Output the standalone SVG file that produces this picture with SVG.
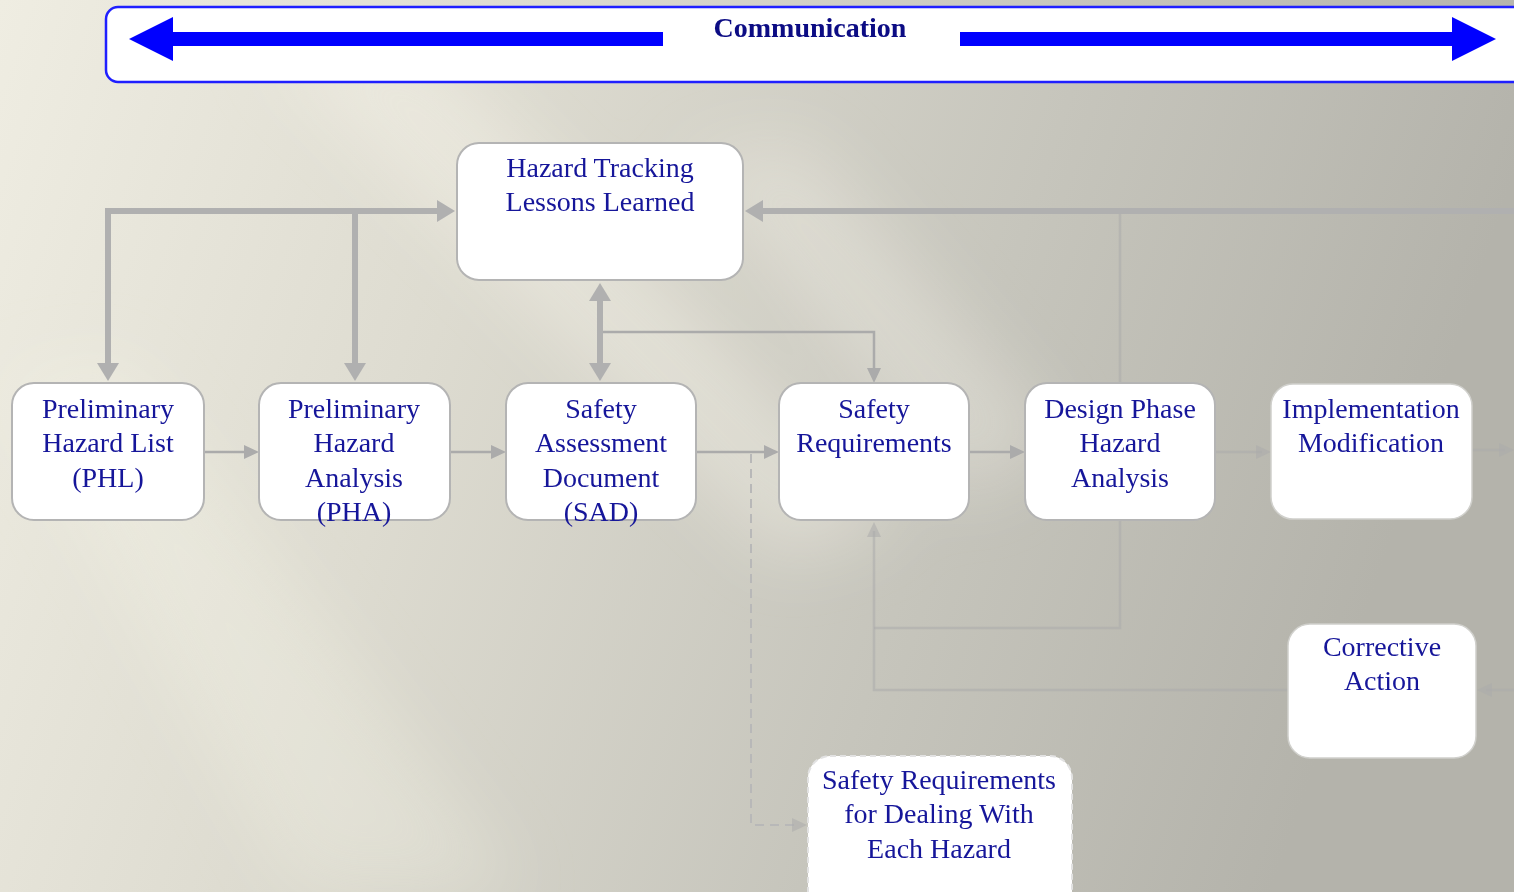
<svg xmlns="http://www.w3.org/2000/svg" width="1514" height="892" viewBox="0 0 1514 892">
  <defs>
    <linearGradient id="bg" x1="0" y1="0" x2="1" y2="0.2">
      <stop offset="0" stop-color="#efede2"/>
      <stop offset="0.35" stop-color="#dddbd0"/>
      <stop offset="0.7" stop-color="#c6c5bc"/>
      <stop offset="1" stop-color="#b4b3ab"/>
    </linearGradient>
    <filter id="glow" x="-30%" y="-30%" width="160%" height="160%">
      <feGaussianBlur stdDeviation="35"/>
    </filter>
    <!-- arrowheads: the tip sits a little beyond the line end so the stroke never pokes through -->
    <marker id="thickHead" markerUnits="userSpaceOnUse" markerWidth="20" markerHeight="22" refX="8" refY="11" orient="auto">
      <path d="M0,0 L18,11 L0,22 Z" fill="#b0b0b0"/>
    </marker>
    <marker id="thickTail" markerUnits="userSpaceOnUse" markerWidth="20" markerHeight="22" refX="10" refY="11" orient="auto">
      <path d="M18,0 L0,11 L18,22 Z" fill="#b0b0b0"/>
    </marker>
    <marker id="thinHead" markerUnits="userSpaceOnUse" markerWidth="16" markerHeight="14" refX="6" refY="7" orient="auto">
      <path d="M0,0 L15,7 L0,14 Z" fill="#ababab"/>
    </marker>
    <marker id="faintHead" markerUnits="userSpaceOnUse" markerWidth="16" markerHeight="14" refX="6" refY="7" orient="auto">
      <path d="M0,0 L15,7 L0,14 Z" fill="#ababab" fill-opacity="0.55"/>
    </marker>
  </defs>
  <style>
    .box { fill: #ffffff; stroke: #b4b4b4; stroke-width: 2; }
    .soft { fill: #ffffff; stroke: #d0d0cc; stroke-width: 1.5; }
    .dash { fill: #ffffff; stroke: #e2e2e2; stroke-width: 2; stroke-dasharray: 6 4; }
    .lbl { font-size: 28px; fill: #16169a; text-anchor: middle; }
    .title { font-size: 28px; font-weight: bold; fill: #0c0c84; text-anchor: middle; }
    .thick { fill: none; stroke: #b0b0b0; stroke-width: 6; }
    .thin { fill: none; stroke: #ababab; stroke-width: 2.5; }
    .faint { fill: none; stroke: #ababab; stroke-opacity: 0.55; stroke-width: 2.5; }
    .dashed { fill: none; stroke: #b8b8b8; stroke-width: 2; stroke-dasharray: 9 6; }
  </style>

  <!-- background with soft diagonal light rays -->
  <rect x="0" y="0" width="1514" height="892" fill="url(#bg)"/>
  <g filter="url(#glow)" fill="#fbfaf1">
    <polygon points="260,40 420,40 900,520 780,560" opacity="0.35"/>
    <polygon points="680,160 800,140 1060,440 960,500" opacity="0.3"/>
    <polygon points="0,380 120,360 520,892 300,892" opacity="0.25"/>
  </g>

  <g font-family="'Liberation Serif', 'DejaVu Serif', 'Times New Roman', serif">
  <!-- communication banner -->
  <g id="communication">
    <rect x="106" y="7" width="1430" height="75" rx="12" fill="#ffffff" stroke="#1f1fff" stroke-width="2.5"/>
    <polygon points="129,39 173,17 173,32 663,32 663,46 173,46 173,61" fill="#0000ff"/>
    <polygon points="1496,39 1452,17 1452,32 960,32 960,46 1452,46 1452,61" fill="#0000ff"/>
    <text class="title" x="810" y="37">Communication</text>
  </g>

  <!-- connectors -->
  <g id="connectors">
    <!-- feedback into hazard tracking from the left -->
    <polyline class="thick" points="108,371 108,211 445,211" marker-end="url(#thickHead)"/>
    <line class="thick" x1="108" y1="214" x2="108" y2="371" marker-end="url(#thickHead)"/>
    <line class="thick" x1="355" y1="211" x2="355" y2="371" marker-end="url(#thickHead)"/>
    <!-- feedback into hazard tracking from the right -->
    <line class="thick" x1="1514" y1="211" x2="755" y2="211" marker-end="url(#thickHead)"/>
    <line class="faint" x1="1120" y1="214" x2="1120" y2="383"/>
    <!-- hazard tracking <-> SAD -->
    <line class="thick" x1="600" y1="293" x2="600" y2="371" marker-start="url(#thickTail)" marker-end="url(#thickHead)"/>
    <polyline class="thin" points="603,332 874,332 874,374" marker-end="url(#thinHead)"/>
    <!-- main flow -->
    <line class="thin" x1="205" y1="452" x2="250" y2="452" marker-end="url(#thinHead)"/>
    <line class="thin" x1="451" y1="452" x2="497" y2="452" marker-end="url(#thinHead)"/>
    <line class="thin" x1="697" y1="452" x2="770" y2="452" marker-end="url(#thinHead)"/>
    <line class="thin" x1="970" y1="452" x2="1016" y2="452" marker-end="url(#thinHead)"/>
    <line class="faint" x1="1216" y1="452" x2="1262" y2="452" marker-end="url(#faintHead)"/>
    <line class="faint" x1="1462" y1="450" x2="1505" y2="450" marker-end="url(#faintHead)"/>
    <!-- loops back to safety requirements -->
    <polyline class="faint" points="1120,521 1120,628 874,628"/>
    <polyline class="faint" points="1288,690 874,690 874,531" marker-end="url(#faintHead)"/>
    <line class="faint" x1="1514" y1="690" x2="1486" y2="690" marker-end="url(#faintHead)"/>
    <!-- SAD to per-hazard requirements -->
    <polyline class="dashed" points="751,454 751,825 798,825" marker-end="url(#faintHead)"/>
  </g>

  <!-- nodes -->
  <g id="hazard-tracking">
    <rect class="box" x="457" y="143" width="286" height="137" rx="22"/>
    <text class="lbl" x="600" y="177">Hazard Tracking</text>
    <text class="lbl" x="600" y="211">Lessons Learned</text>
  </g>

  <g id="phl">
    <rect class="box" x="12" y="383" width="192" height="137" rx="22"/>
    <text class="lbl" x="108" y="418">Preliminary</text>
    <text class="lbl" x="108" y="452">Hazard List</text>
    <text class="lbl" x="108" y="487">(PHL)</text>
  </g>

  <g id="pha">
    <rect class="box" x="259" y="383" width="191" height="137" rx="22"/>
    <text class="lbl" x="354" y="418">Preliminary</text>
    <text class="lbl" x="354" y="452">Hazard</text>
    <text class="lbl" x="354" y="487">Analysis</text>
    <text class="lbl" x="354" y="521">(PHA)</text>
  </g>

  <g id="sad">
    <rect class="box" x="506" y="383" width="190" height="137" rx="22"/>
    <text class="lbl" x="601" y="418">Safety</text>
    <text class="lbl" x="601" y="452">Assessment</text>
    <text class="lbl" x="601" y="487">Document</text>
    <text class="lbl" x="601" y="521">(SAD)</text>
  </g>

  <g id="safety-requirements">
    <rect class="box" x="779" y="383" width="190" height="137" rx="22"/>
    <text class="lbl" x="874" y="418">Safety</text>
    <text class="lbl" x="874" y="452">Requirements</text>
  </g>

  <g id="design-phase">
    <rect class="box" x="1025" y="383" width="190" height="137" rx="22"/>
    <text class="lbl" x="1120" y="418">Design Phase</text>
    <text class="lbl" x="1120" y="452">Hazard</text>
    <text class="lbl" x="1120" y="487">Analysis</text>
  </g>

  <g id="implementation">
    <rect class="soft" x="1271" y="384" width="201" height="135" rx="22"/>
    <text class="lbl" x="1371" y="418">Implementation</text>
    <text class="lbl" x="1371" y="452">Modification</text>
  </g>

  <g id="corrective-action">
    <rect class="soft" x="1288" y="624" width="188" height="134" rx="22"/>
    <text class="lbl" x="1382" y="656">Corrective</text>
    <text class="lbl" x="1382" y="690">Action</text>
  </g>

  <g id="per-hazard-requirements">
    <rect class="dash" x="808" y="756" width="264" height="160" rx="22"/>
    <text class="lbl" x="939" y="789">Safety Requirements</text>
    <text class="lbl" x="939" y="823">for Dealing  With</text>
    <text class="lbl" x="939" y="858">Each Hazard</text>
  </g>
  </g>
</svg>
